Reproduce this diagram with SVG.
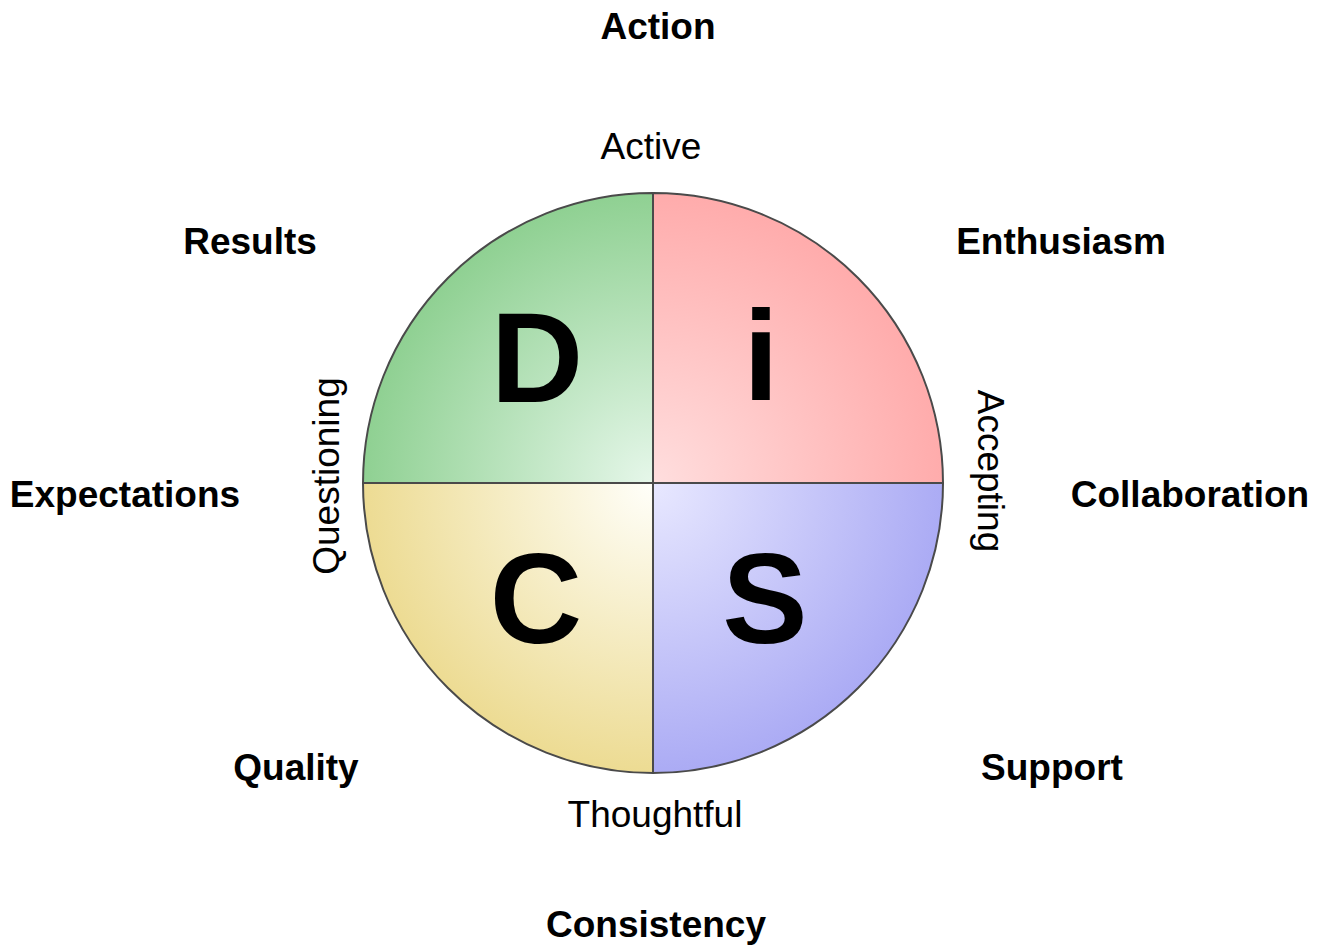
<svg xmlns="http://www.w3.org/2000/svg" width="1323" height="949" viewBox="0 0 1323 949">
<style>
.b{font-family:"Liberation Sans",Arial,sans-serif;font-weight:bold;font-size:37px;fill:#000;text-anchor:middle}
.r{font-family:"Liberation Sans",Arial,sans-serif;font-size:37px;fill:#000;text-anchor:middle}
.big{font-family:"Liberation Sans",Arial,sans-serif;font-weight:bold;font-size:128px;fill:#000;text-anchor:middle}
.q{stroke:#4a4a4a;stroke-width:2}
</style>
<defs>
<radialGradient id="gD" gradientUnits="userSpaceOnUse" cx="653" cy="483" r="300"><stop offset="0" stop-color="#e6f7ea"/><stop offset="1" stop-color="#8ccf8f"/></radialGradient>
<radialGradient id="gI" gradientUnits="userSpaceOnUse" cx="653" cy="483" r="300"><stop offset="0" stop-color="#ffdede"/><stop offset="1" stop-color="#ffaaaa"/></radialGradient>
<radialGradient id="gC" gradientUnits="userSpaceOnUse" cx="653" cy="483" r="300"><stop offset="0" stop-color="#fffffa"/><stop offset="1" stop-color="#ecda8f"/></radialGradient>
<radialGradient id="gS" gradientUnits="userSpaceOnUse" cx="653" cy="483" r="300"><stop offset="0" stop-color="#e8e8ff"/><stop offset="1" stop-color="#a9a9f4"/></radialGradient>
</defs>
<rect width="1323" height="949" fill="#fff"/>
<g id="D"><path class="q" d="M653 483 L363 483 A290 290 0 0 1 653 193 Z" fill="url(#gD)"/><text class="big" x="537" y="402">D</text></g>
<g id="i"><path class="q" d="M653 483 L653 193 A290 290 0 0 1 943 483 Z" fill="url(#gI)"/><text class="big" x="761" y="400">i</text></g>
<g id="C"><path class="q" d="M653 483 L653 773 A290 290 0 0 1 363 483 Z" fill="url(#gC)"/><text class="big" x="536" y="643">C</text></g>
<g id="S"><path class="q" d="M653 483 L943 483 A290 290 0 0 1 653 773 Z" fill="url(#gS)"/><text class="big" x="765" y="643">S</text></g>
<g id="labels">
<text class="b" x="658" y="39">Action</text>
<text class="r" x="651" y="159">Active</text>
<text class="b" x="250" y="254">Results</text>
<text class="b" x="1061" y="254">Enthusiasm</text>
<text class="b" x="125" y="507">Expectations</text>
<text class="b" x="1190" y="507">Collaboration</text>
<text class="b" x="296" y="780">Quality</text>
<text class="b" x="1052" y="780">Support</text>
<text class="r" x="655" y="827">Thoughtful</text>
<text class="b" x="656" y="937">Consistency</text>
<text class="r" transform="translate(339,476) rotate(-90)">Questioning</text>
<text class="r" transform="translate(978,471) rotate(90)">Accepting</text>
</g>
</svg>
